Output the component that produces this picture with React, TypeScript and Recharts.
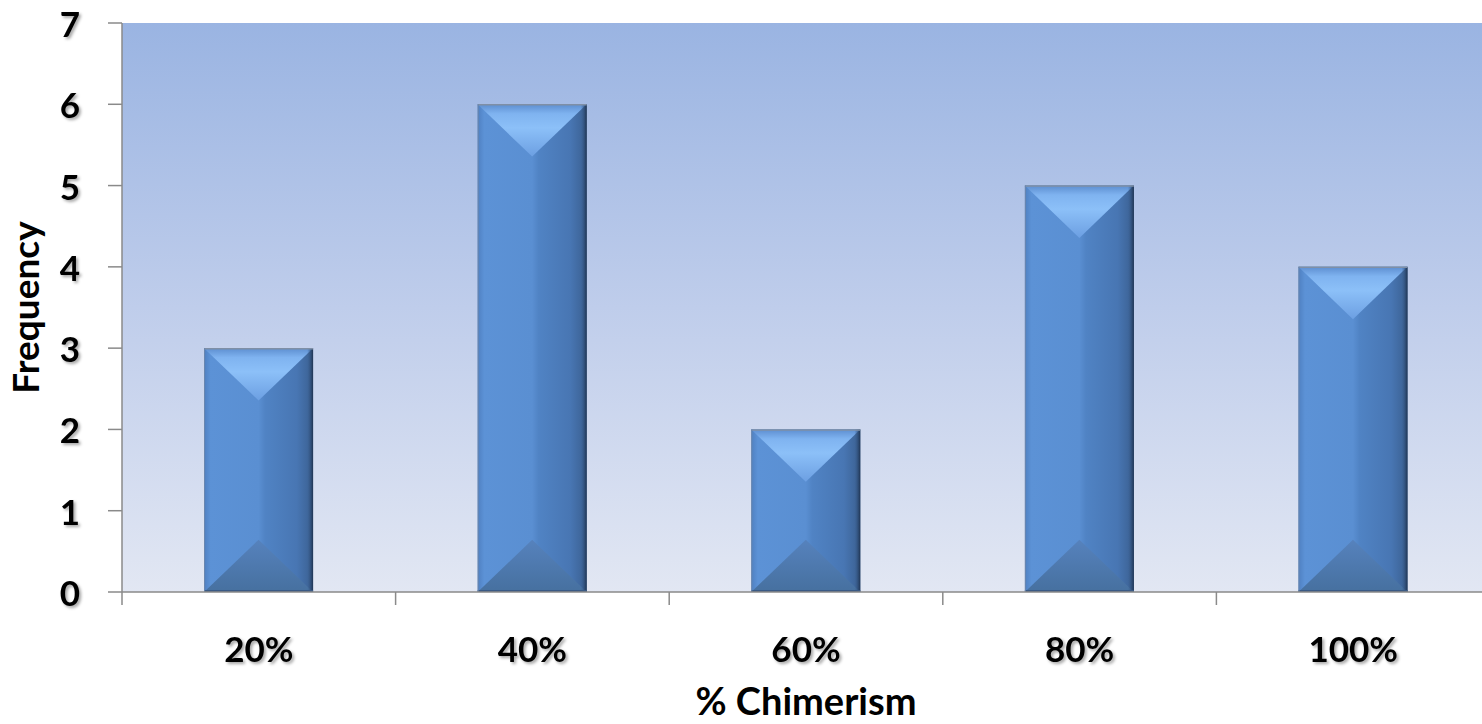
import React from 'react';
import { BarChart, Bar, XAxis, YAxis, CartesianGrid, Label } from 'recharts';

// categories and counts
const categories = ['20%', '40%', '60%', '80%', '100%'];
const frequency = [3, 6, 2, 5, 4];
const yTicks = [0, 1, 2, 3, 4, 5, 6, 7];

const data = categories.map((c, i) => ({ name: c, value: frequency[i] }));

const FONT = "Lato, 'Open Sans', sans-serif";
const SHADOW = 'drop-shadow(2px 2px 1.5px rgba(0,0,0,0.35))';
const AXIS = '#8a8a8a';
const X_TICK = 13;

// beveled 3D-looking bar
const BevelBar = (props: any) => {
  const { x, y, width, height } = props;
  if (!height || height <= 0) return null;
  const d = Math.min(width * 0.48, height / 2);
  const cx = x + width / 2;
  return (
    <g>
      <rect x={x} y={y} width={width} height={height} fill="url(#barBody)" />
      <polygon points={`${x},${y} ${x + width},${y} ${cx},${y + d}`} fill="url(#barTop)" />
      <polygon points={`${x},${y + height} ${x + width},${y + height} ${cx},${y + height - d}`} fill="url(#barBottom)" />
      <rect x={x + width - 6} y={y} width={6} height={height} fill="url(#barEdge)" />
      <line x1={x} x2={x + width} y1={y + 0.5} y2={y + 0.5} stroke="#7f8fa6" strokeWidth={1.5} />
      <line x1={x} x2={x + width} y1={y + height - 1} y2={y + height - 1} stroke="#3a5a85" strokeWidth={2} />
      <line x1={x + 0.5} x2={x + 0.5} y1={y} y2={y + height} stroke="#6a86ad" strokeWidth={1} />
    </g>
  );
};

// x tick: label at the category centre, tick marks on the category boundaries
const XTick = (props: any) => {
  const { x, y, payload, index, width } = props;
  const half = payload && payload.offset ? payload.offset : width / categories.length / 2;
  const last = index === categories.length - 1;
  return (
    <g>
      <line x1={x - half} x2={x - half} y1={y - X_TICK} y2={y} stroke={AXIS} strokeWidth={1.5} />
      {last && <line x1={x + half} x2={x + half} y1={y - X_TICK} y2={y} stroke={AXIS} strokeWidth={1.5} />}
      <text x={x} y={y + 43} textAnchor="middle" dominantBaseline="central"
        fontFamily={FONT} fontWeight={700} fontSize={35} fill="#000" style={{ filter: SHADOW }}>
        {payload.value}
      </text>
    </g>
  );
};

const YTick = (props: any) => {
  const { x, y, payload } = props;
  return (
    <text x={x} y={y} textAnchor="end" dominantBaseline="central"
      fontFamily={FONT} fontWeight={700} fontSize={35} fill="#000" style={{ filter: SHADOW }}>
      {payload.value}
    </text>
  );
};

export default function App() {
  return (
    <div style={{ position: 'absolute', left: 0, top: 0, width: 1482, height: 724, overflow: 'hidden', background: '#fff' }}>
      <svg width={0} height={0} style={{ position: 'absolute' }}>
        <defs>
          <linearGradient id="plotBg" x1="0" y1="0" x2="0" y2="1">
            <stop offset="0%" stopColor="#9ab4e2" />
            <stop offset="50%" stopColor="#bfcdeb" />
            <stop offset="100%" stopColor="#e2e7f3" />
          </linearGradient>
          <linearGradient id="barBody" x1="0" y1="0" x2="1" y2="0">
            <stop offset="0%" stopColor="#4f80c1" />
            <stop offset="6%" stopColor="#5c92d6" />
            <stop offset="50%" stopColor="#5a8fd2" />
            <stop offset="56%" stopColor="#5083c4" />
            <stop offset="85%" stopColor="#4876b3" />
            <stop offset="100%" stopColor="#3a5f90" />
          </linearGradient>
          <linearGradient id="barEdge" x1="0" y1="0" x2="1" y2="0">
            <stop offset="0%" stopColor="#3a5f90" stopOpacity={0} />
            <stop offset="100%" stopColor="#1f3452" stopOpacity={1} />
          </linearGradient>
          <linearGradient id="barTop" x1="0" y1="0" x2="0" y2="1">
            <stop offset="0%" stopColor="#5d8ed0" />
            <stop offset="18%" stopColor="#7fb3f0" />
            <stop offset="45%" stopColor="#8cc0f8" />
            <stop offset="100%" stopColor="#6c9fe2" />
          </linearGradient>
          <linearGradient id="barBottom" x1="0" y1="0" x2="0" y2="1">
            <stop offset="0%" stopColor="#5682bd" />
            <stop offset="100%" stopColor="#46709f" />
          </linearGradient>
        </defs>
      </svg>
      <BarChart width={1490} height={724} data={data}
        margin={{ top: 23, right: 0, bottom: 0, left: 0 }} barCategoryGap="30%">
        <CartesianGrid fill="url(#plotBg)" stroke="none" horizontal={false} vertical={false} />
        <XAxis dataKey="name" height={132} tickSize={X_TICK} tickMargin={0}
          axisLine={{ stroke: AXIS, strokeWidth: 1.5 }} tickLine={false}
          tick={<XTick />} interval={0}>
          <Label position="insideBottom" offset={9} value="% Chimerism"
            style={{ fontFamily: FONT, fontWeight: 700, fontSize: 38, fill: '#000' }} />
        </XAxis>
        <YAxis width={122} domain={[0, 7]} ticks={yTicks} interval={0} tickSize={14} tickMargin={28}
          axisLine={{ stroke: AXIS, strokeWidth: 1.5 }} tickLine={{ stroke: AXIS, strokeWidth: 1.5 }}
          tick={<YTick />}>
          <Label content={({ viewBox }: any) => (
            <text x={viewBox.x + 39} y={viewBox.y + viewBox.height / 2} textAnchor="middle"
              transform={`rotate(-90, ${viewBox.x + 39}, ${viewBox.y + viewBox.height / 2})`}
              fontFamily={FONT} fontWeight={700} fontSize={37} fill="#000">Frequency</text>
          )} />
        </YAxis>
        <Bar dataKey="value" shape={<BevelBar />} isAnimationActive={false} />
      </BarChart>
    </div>
  );
}
